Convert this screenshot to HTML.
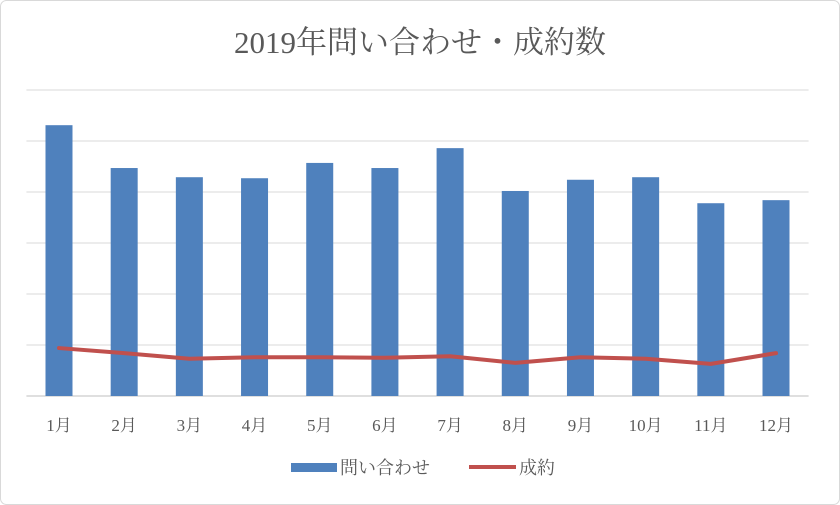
<!DOCTYPE html>
<html><head><meta charset="utf-8"><style>
body{margin:0;background:#fff;}
svg{display:block;font-family:"Liberation Serif","Noto Serif CJK JP","Noto Serif CJK SC",serif;}
</style></head><body>
<svg id="c" width="840" height="505">
<rect x="0.5" y="0.5" width="839" height="504" rx="6" fill="#fff" stroke="#d9d9d9"/>
<text x="420" y="53" text-anchor="middle" font-size="31" fill="#595959">2019年問い合わせ・成約数</text>
<g id="grid"></g><g id="bars"></g><g id="line"></g><g id="xl"></g>
<g>
<rect x="291" y="463" width="46" height="9" fill="#4f81bd"/>
<text x="340" y="474" font-size="18" fill="#595959">問い合わせ</text>
<line x1="469" y1="467" x2="516" y2="467" stroke="#c0504d" stroke-width="4"/>
<text x="519" y="474" font-size="18" fill="#595959">成約</text>
</g>
</svg>
<script>
const categories=["1月","2月","3月","4月","5月","6月","7月","8月","9月","10月","11月","12月"];
const inquiries=[53.1,44.7,42.9,42.7,45.7,44.7,48.6,40.2,42.4,42.9,37.8,38.4];
const contracts=[9.4,8.4,7.3,7.6,7.6,7.5,7.8,6.5,7.6,7.3,6.3,8.4];
const gridTicks=[0,10,20,30,40,50,60];
const NS="http://www.w3.org/2000/svg";
const L=26.4,R=808.6,B=396,T=90,MAX=60;
const bw=(R-L)/categories.length;
const x=i=>L+bw*(i+0.5);
const y=v=>B-(v/MAX)*(B-T);
function mk(t,a,p){const e=document.createElementNS(NS,t);for(const k in a)e.setAttribute(k,a[k]);p.appendChild(e);return e;}
const g=document.getElementById('grid');
gridTicks.forEach(v=>{const e=mk('line',{x1:L,x2:R,y1:y(v),y2:y(v),stroke:v===0?'#bfbfbf':'#d9d9d9','stroke-width':1},g);

});
const bg=document.getElementById('bars');
inquiries.forEach((v,i)=>{const e=mk('rect',{x:x(i)-13.5,y:y(v),width:27,height:B-y(v),fill:'#4f81bd'},bg);

});
const lg=document.getElementById('line');
const pl=mk('polyline',{points:contracts.map((v,i)=>x(i)+','+y(v)).join(' '),fill:'none',stroke:'#c0504d','stroke-width':4,'stroke-linejoin':'round','stroke-linecap':'round'},lg);


const xl=document.getElementById('xl');
categories.forEach((c,i)=>{const e=mk('text',{x:x(i),y:431,'text-anchor':'middle','font-size':17,fill:'#595959'},xl);e.textContent=c;

});
</script>
</body></html>
